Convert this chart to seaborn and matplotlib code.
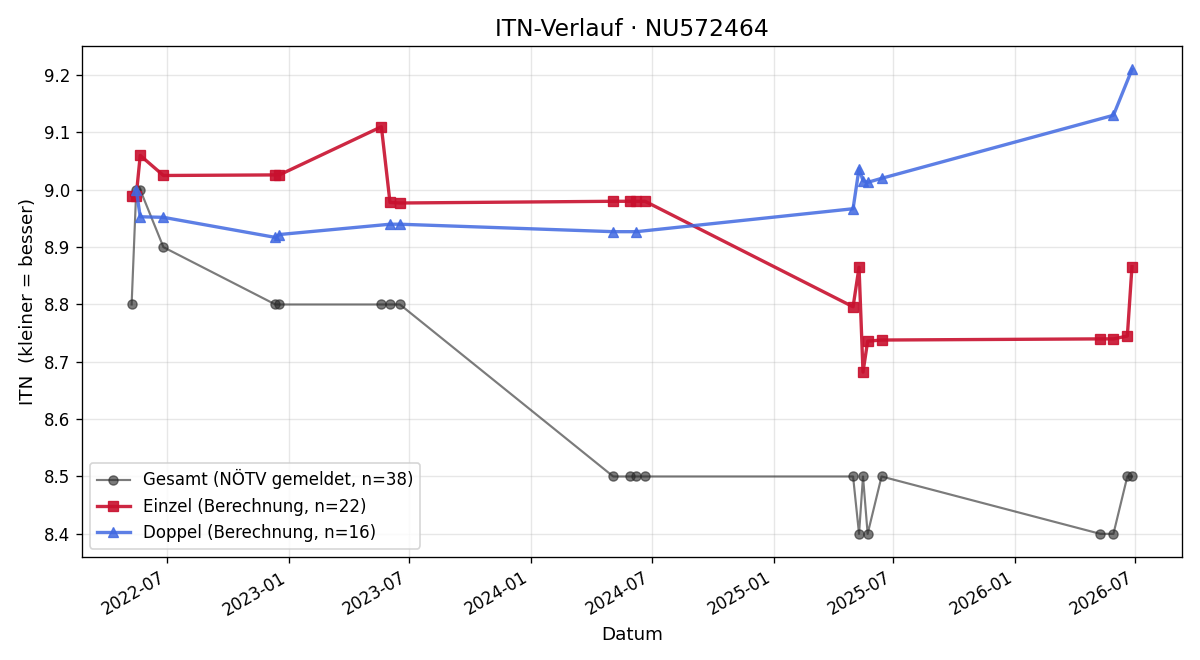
import pandas as pd
import matplotlib
matplotlib.use("Agg")
import matplotlib.pyplot as plt
import matplotlib.dates as mdates
import seaborn as sns

# Gesamt (NÖTV gemeldet)
gesamt_dates = ["2022-05-08", "2022-05-15", "2022-05-21", "2022-06-25",
                "2022-12-11", "2022-12-17", "2023-05-20", "2023-06-02", "2023-06-17",
                "2024-05-04", "2024-05-30", "2024-06-08", "2024-06-21",
                "2025-05-01", "2025-05-10", "2025-05-16", "2025-05-23", "2025-06-13",
                "2026-05-09", "2026-05-29", "2026-06-19", "2026-06-26"]
gesamt_itn = [8.8, 9.0, 9.0, 8.9,
              8.8, 8.8, 8.8, 8.8, 8.8,
              8.5, 8.5, 8.5, 8.5,
              8.5, 8.4, 8.5, 8.4, 8.5,
              8.4, 8.4, 8.5, 8.5]

# Einzel (Berechnung)
einzel_dates = gesamt_dates
einzel_itn = [8.99, 8.99, 9.06, 9.025,
              9.026, 9.026, 9.11, 8.978, 8.977,
              8.98, 8.98, 8.98, 8.98,
              8.796, 8.865, 8.682, 8.736, 8.738,
              8.74, 8.74, 8.745, 8.866]

# Doppel (Berechnung)
doppel_dates = ["2022-05-15", "2022-05-21", "2022-06-25",
                "2022-12-11", "2022-12-17", "2023-06-02", "2023-06-17",
                "2024-05-04", "2024-06-08",
                "2025-05-01", "2025-05-10", "2025-05-16", "2025-05-23", "2025-06-13",
                "2026-05-29", "2026-06-26"]
doppel_itn = [9.0, 8.953, 8.952,
              8.917, 8.922, 8.94, 8.94,
              8.927, 8.927,
              8.967, 9.037, 9.016, 9.013, 9.02,
              9.13, 9.21]

series = [
    ("Gesamt (NÖTV gemeldet, n=38)", gesamt_dates, gesamt_itn, "#2a2a2a", "o", 1.3, 5.5, 0.62),
    ("Einzel (Berechnung, n=22)", einzel_dates, einzel_itn, "#c8102e", "s", 2.0, 6.5, 0.9),
    ("Doppel (Berechnung, n=16)", doppel_dates, doppel_itn, "#4169e1", "^", 2.0, 6.5, 0.85),
]

fig, ax = plt.subplots(figsize=(10, 5.5), dpi=120)

for label, dates, vals, color, marker, lw, ms, alpha in series:
    df = pd.DataFrame({"Datum": pd.to_datetime(dates), "ITN": vals})
    sns.lineplot(data=df, x="Datum", y="ITN", ax=ax, color=color, marker=marker,
                 linewidth=lw, markersize=ms, alpha=alpha, label=label,
                 markeredgecolor=color, markeredgewidth=0.8, sort=False,
                 estimator=None)

ax.set_title("ITN-Verlauf · NU572464", fontsize=14)
ax.set_xlabel("Datum", fontsize=11)
ax.set_ylabel("ITN  (kleiner = besser)", fontsize=11)
ax.grid(True, alpha=0.3)
ax.xaxis.set_major_locator(mdates.MonthLocator(bymonth=(1, 7)))
ax.xaxis.set_major_formatter(mdates.DateFormatter("%Y-%m"))
ax.tick_params(labelsize=10)
ax.legend(loc="lower left", fontsize=10)
fig.autofmt_xdate()
fig.subplots_adjust(left=0.068, right=0.985, top=0.930, bottom=0.156)
fig.savefig("out.png", dpi=120)
